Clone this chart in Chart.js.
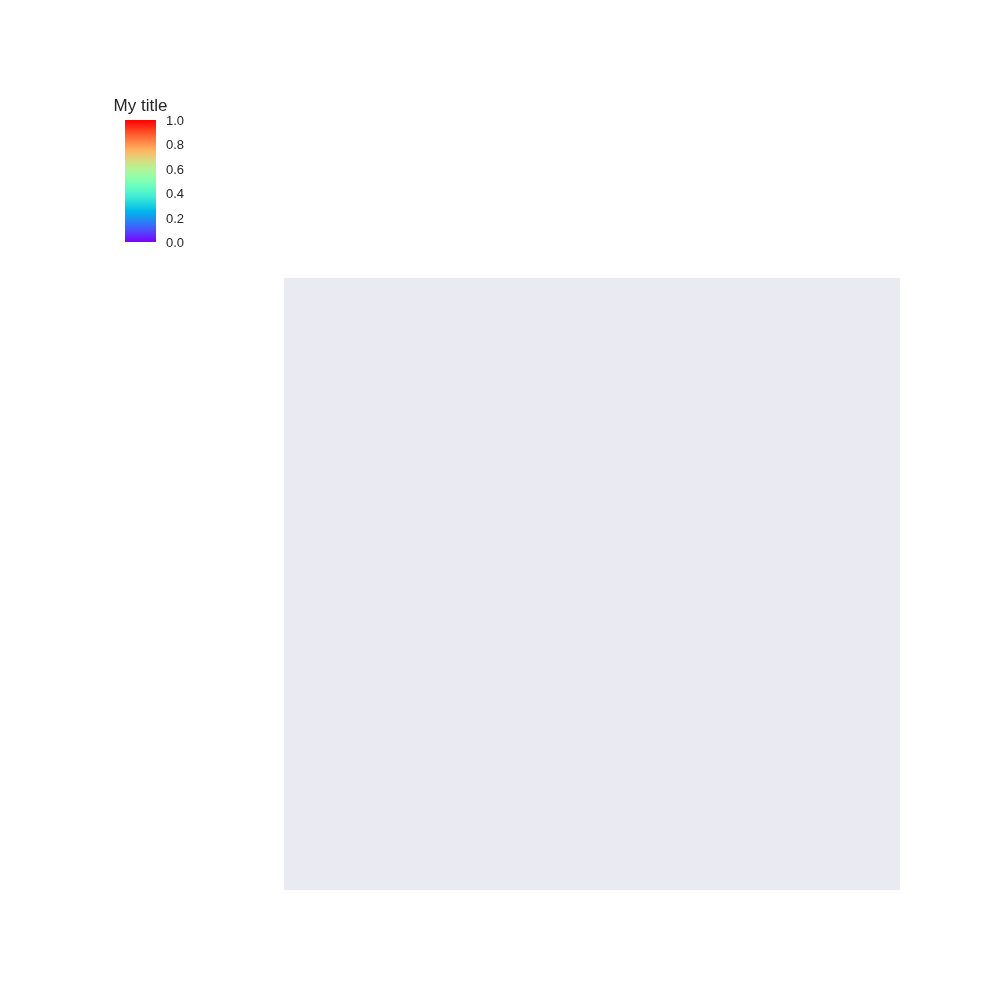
<!DOCTYPE html>
<html>
<head>
<meta charset="utf-8">
<script src="https://cdn.jsdelivr.net/npm/chart.js@4/dist/chart.umd.min.js"></script>
<style>
  html, body { margin: 0; padding: 0; background: #ffffff; }
  #wrap { position: relative; width: 1000px; height: 1000px; }
  #main { position: absolute; left: 0; top: 0; }
  #cbar { position: absolute; left: 100px; top: 80px; }
</style>
</head>
<body>
<div id="wrap">
  <canvas id="main" width="1000" height="1000"></canvas>
  <canvas id="cbar" width="120" height="180"></canvas>
</div>
<script>
// ---- data ----
const mainPoints = [];                 // the main axes are empty
const cbarLabel = ['colorbar'];
const cbarRange = [0, 1];              // colour scale extent
const cbarTicks = [0.0, 0.2, 0.4, 0.6, 0.8, 1.0];
const cbarTitle = 'My title';

const FONT = "'Liberation Sans', Arial, sans-serif";
const TEXT = '#262626';

// matplotlib 'rainbow' colormap
function rainbow(t) {
  const cl = v => Math.max(0, Math.min(1, v));
  const r = cl(Math.abs(2 * t - 0.5));
  const g = cl(Math.sin(Math.PI * t));
  const b = cl(Math.cos(Math.PI * t / 2));
  return `rgb(${Math.round(r*255)},${Math.round(g*255)},${Math.round(b*255)})`;
}

const bgPlugin = {
  id: 'areaBg',
  beforeDraw(chart) {
    const a = chart.chartArea; if (!a) return;
    const c = chart.ctx; c.save();
    c.fillStyle = '#EAEAF2';
    c.fillRect(a.left, a.top, a.right - a.left, a.bottom - a.top);
    c.restore();
  }
};

const cbarTitlePlugin = {
  id: 'cbarTitle',
  afterDraw(chart) {
    const a = chart.chartArea; if (!a) return;
    const c = chart.ctx; c.save();
    c.fillStyle = TEXT;
    c.font = `17px ${FONT}`;
    c.textAlign = 'center';
    c.textBaseline = 'alphabetic';
    c.fillText(cbarTitle, (a.left + a.right) / 2, a.top - 9);
    c.restore();
  }
};

new Chart(document.getElementById('main'), {
  type: 'scatter',
  data: { datasets: [{ data: mainPoints }] },
  options: {
    responsive: false, animation: false,
    layout: { padding: { left: 284, top: 278, right: 100, bottom: 110 } },
    plugins: { legend: { display: false }, tooltip: { enabled: false } },
    scales: {
      x: { display: false, min: 0, max: 1 },
      y: { display: false, min: 0, max: 1 }
    }
  },
  plugins: [bgPlugin]
});

new Chart(document.getElementById('cbar'), {
  type: 'bar',
  data: {
    labels: cbarLabel,
    datasets: [{
      data: [cbarRange],
      barPercentage: 1, categoryPercentage: 1,
      borderWidth: 0,
      backgroundColor(ctx) {
        const chart = ctx.chart;
        const ys = chart.scales.y;
        if (!chart.chartArea || !ys) return rainbow(0.5);
        const y0 = ys.getPixelForValue(cbarRange[0]);
        const y1 = ys.getPixelForValue(cbarRange[1]);
        const g = chart.ctx.createLinearGradient(0, y0, 0, y1);
        for (let i = 0; i <= 40; i++) g.addColorStop(i / 40, rainbow(i / 40));
        return g;
      }
    }]
  },
  options: {
    responsive: false, animation: false,
    layout: { padding: { left: 25, top: 16, right: 36, bottom: 18 } },
    plugins: { legend: { display: false }, tooltip: { enabled: false } },
    scales: {
      x: {
        position: 'top',
        grid: { display: false, drawTicks: false },
        border: { display: false },
        ticks: { display: false },
        afterFit(s) { s.height = 24; }
      },
      y: {
        position: 'right',
        min: cbarRange[0], max: cbarRange[1],
        grid: { display: false, drawTicks: false },
        border: { display: false },
        afterBuildTicks(s) { s.ticks = cbarTicks.map(v => ({ value: v })); },
        ticks: {
          padding: 10, labelOffset: 1.5, color: TEXT, font: { family: FONT, size: 13 },
          callback: v => Number(v).toFixed(1)
        },
        afterFit(s) { s.width = 28; }
      }
    }
  },
  plugins: [cbarTitlePlugin]
});
</script>
</body>
</html>
